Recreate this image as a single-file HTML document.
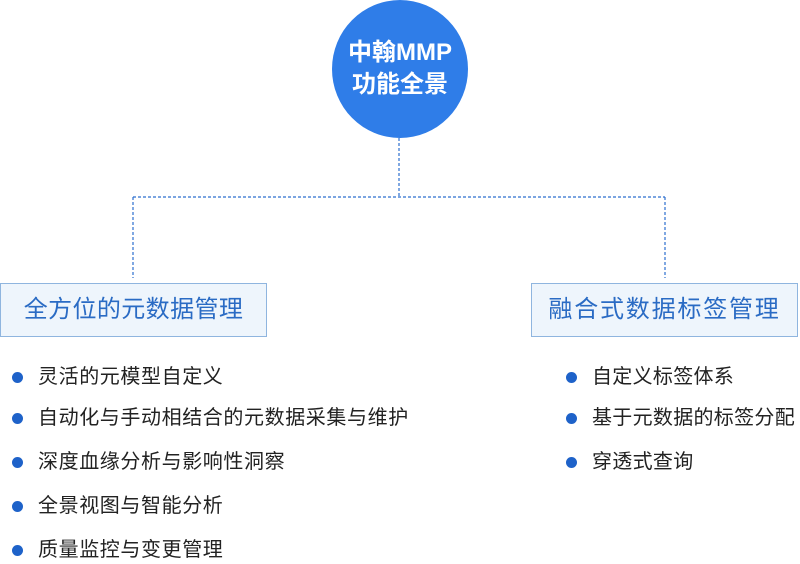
<!DOCTYPE html>
<html><head><meta charset="utf-8"><style>
body{margin:0;width:800px;height:564px;background:#fff;position:relative;overflow:hidden;font-family:"Liberation Sans","Noto Sans CJK SC",sans-serif;}
.a{position:absolute;}
.circle{left:332px;top:0;width:136px;height:138px;border-radius:50%;background:#2f7de8;color:#fff;font-weight:bold;font-size:24px;line-height:32px;text-align:center;display:flex;align-items:center;justify-content:center;}
.box{top:283px;height:52px;background:#eef5fc;border:1px solid #8fb5df;color:#2a6bc4;font-size:24px;line-height:52px;text-align:center;box-sizing:content-box;white-space:nowrap;}
.dot{width:11px;height:11px;border-radius:50%;background:#1e62c9;}
.t{font-size:20px;color:#222;letter-spacing:0.6px;line-height:22px;white-space:nowrap;}
.r{letter-spacing:0.3px;}
</style></head><body>
<svg class="a" style="left:0;top:0" width="800" height="564">
<g stroke="#2c6fcf" stroke-width="1.2" stroke-dasharray="3,2" fill="none">
<line x1="399" y1="138" x2="399" y2="197"/>
<line x1="133" y1="197" x2="665" y2="197"/>
<line x1="133" y1="197" x2="133" y2="278"/>
<line x1="665" y1="197" x2="665" y2="278"/>
</g></svg>
<div class="a circle"><div>中翰MMP<br>功能全景</div></div>
<div class="a box" style="left:0;width:265px;letter-spacing:0.4px;">全方位的元数据管理</div>
<div class="a box" style="left:531px;width:265px;letter-spacing:1.8px;">融合式数据标签管理</div>

<div class="a dot" style="left:12px;top:372px"></div><div class="a t" style="left:38px;top:366px">灵活的元模型自定义</div>
<div class="a dot" style="left:12px;top:413px"></div><div class="a t" style="left:38px;top:407px">自动化与手动相结合的元数据采集与维护</div>
<div class="a dot" style="left:12px;top:457px"></div><div class="a t" style="left:38px;top:451px">深度血缘分析与影响性洞察</div>
<div class="a dot" style="left:12px;top:501px"></div><div class="a t" style="left:38px;top:495px">全景视图与智能分析</div>
<div class="a dot" style="left:12px;top:545px"></div><div class="a t" style="left:38px;top:539px">质量监控与变更管理</div>

<div class="a dot" style="left:566px;top:372px"></div><div class="a t r" style="left:592px;top:366px">自定义标签体系</div>
<div class="a dot" style="left:566px;top:413px"></div><div class="a t r" style="left:592px;top:407px">基于元数据的标签分配</div>
<div class="a dot" style="left:566px;top:457px"></div><div class="a t r" style="left:592px;top:451px">穿透式查询</div>
</body></html>
